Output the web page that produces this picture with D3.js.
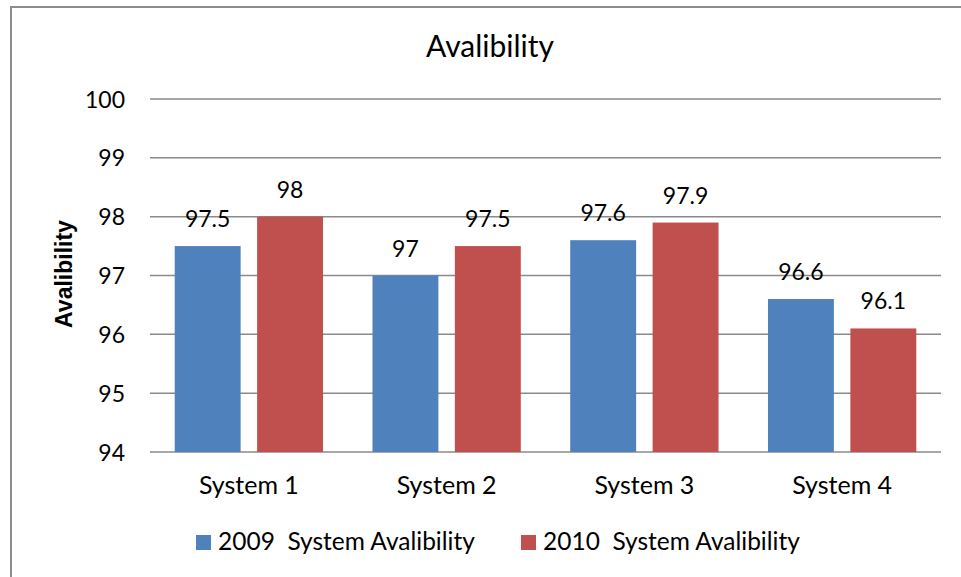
<!DOCTYPE html>
<html><head><meta charset="utf-8">
<script src="https://cdn.jsdelivr.net/npm/d3@7"></script>
<style>body{margin:0;background:#fff}svg{display:block;font-family:Lato,"Open Sans",sans-serif}</style>
</head><body>
<svg id="c" width="961" height="577"></svg>
<script>
const categories = ["System 1","System 2","System 3","System 4"];
const seriesNames = ["2009  System Avalibility","2010  System Avalibility"];
const values2009 = [97.5, 97, 97.6, 96.6];
const values2010 = [98, 97.5, 97.9, 96.1];
const yTicks = [94,95,96,97,98,99,100];
const colors = ["#4F81BD","#C0504D"];

const svg = d3.select("#c");
const pLeft=150, pRight=941, pTop=99, pBottom=452;

svg.append("rect").attr("x",11).attr("y",7).attr("width",1000).attr("height",620)
  .attr("fill","#fff").attr("stroke","#8c8c8c").attr("stroke-width",2);

const x = d3.scaleBand().domain(categories).range([pLeft,pRight]).paddingInner(0).paddingOuter(0);
const y = d3.scaleLinear().domain([94,100]).range([pBottom,pTop]);
const xs = d3.scaleBand().domain([0,1]).range([0,x.bandwidth()]).paddingInner(0.2).paddingOuter(0.3);

// gridlines
svg.append("g").selectAll("line").data(yTicks).join("line")
  .attr("x1",pLeft).attr("x2",pRight).attr("y1",d=>y(d)).attr("y2",d=>y(d))
  .attr("stroke","#8a8a8a").attr("stroke-width",1.5);

// y tick labels
const yAxis = d3.axisLeft(y).tickValues(yTicks).tickFormat(d3.format("d")).tickSize(0).tickPadding(0);
const ga = svg.append("g").attr("transform",`translate(${pLeft-25},0)`).call(yAxis);
ga.select(".domain").remove();
ga.selectAll("text").attr("font-size",23).attr("fill","#000").attr("font-family","Lato,sans-serif").attr("dy","0.35em");

// bars
const series=[values2009,values2010];
series.forEach((vals,si)=>{
  const g=svg.append("g");
  g.selectAll("rect").data(vals).join("rect")
    .attr("x",(d,i)=>x(categories[i])+xs(si))
    .attr("width",xs.bandwidth())
    .attr("y",d=>y(d)).attr("height",d=>pBottom-y(d))
    .attr("fill",colors[si]);
  g.selectAll("text").data(vals).join("text")
    .attr("x",(d,i)=>x(categories[i])+xs(si)+xs.bandwidth()/2)
    .attr("y",d=>y(d)-19)
    .attr("text-anchor","middle").attr("font-size",23).attr("fill","#000")
    .text(d=>d);
});

// x axis labels
const xAxis=d3.axisBottom(x).tickSize(0).tickPadding(0);
const gx=svg.append("g").attr("transform",`translate(0,${pBottom+42})`).call(xAxis);
gx.select(".domain").remove();
gx.selectAll("text").attr("font-size",25).attr("fill","#000").attr("font-family","Lato,sans-serif").attr("dy","0");

// title
svg.append("text").attr("x",490).attr("y",57).attr("text-anchor","middle")
  .attr("font-size",30).attr("fill","#000").text("Avalibility");

// y axis title
svg.append("text").attr("transform","translate(72,274) rotate(-90)").attr("text-anchor","middle")
  .attr("font-family","'Liberation Sans',Arial,sans-serif")
  .attr("font-size",23).attr("font-weight","bold").attr("fill","#000").text("Avalibility");

// legend
const legX=[196,521];
seriesNames.forEach((n,i)=>{
  svg.append("rect").attr("x",legX[i]).attr("y",535).attr("width",15).attr("height",15).attr("fill",colors[i]);
  svg.append("text").attr("x",legX[i]+22).attr("y",550).attr("font-size",24.5).attr("fill","#000")
    .attr("xml:space","preserve").style("white-space","pre").text(n);
});
</script>
</body></html>
